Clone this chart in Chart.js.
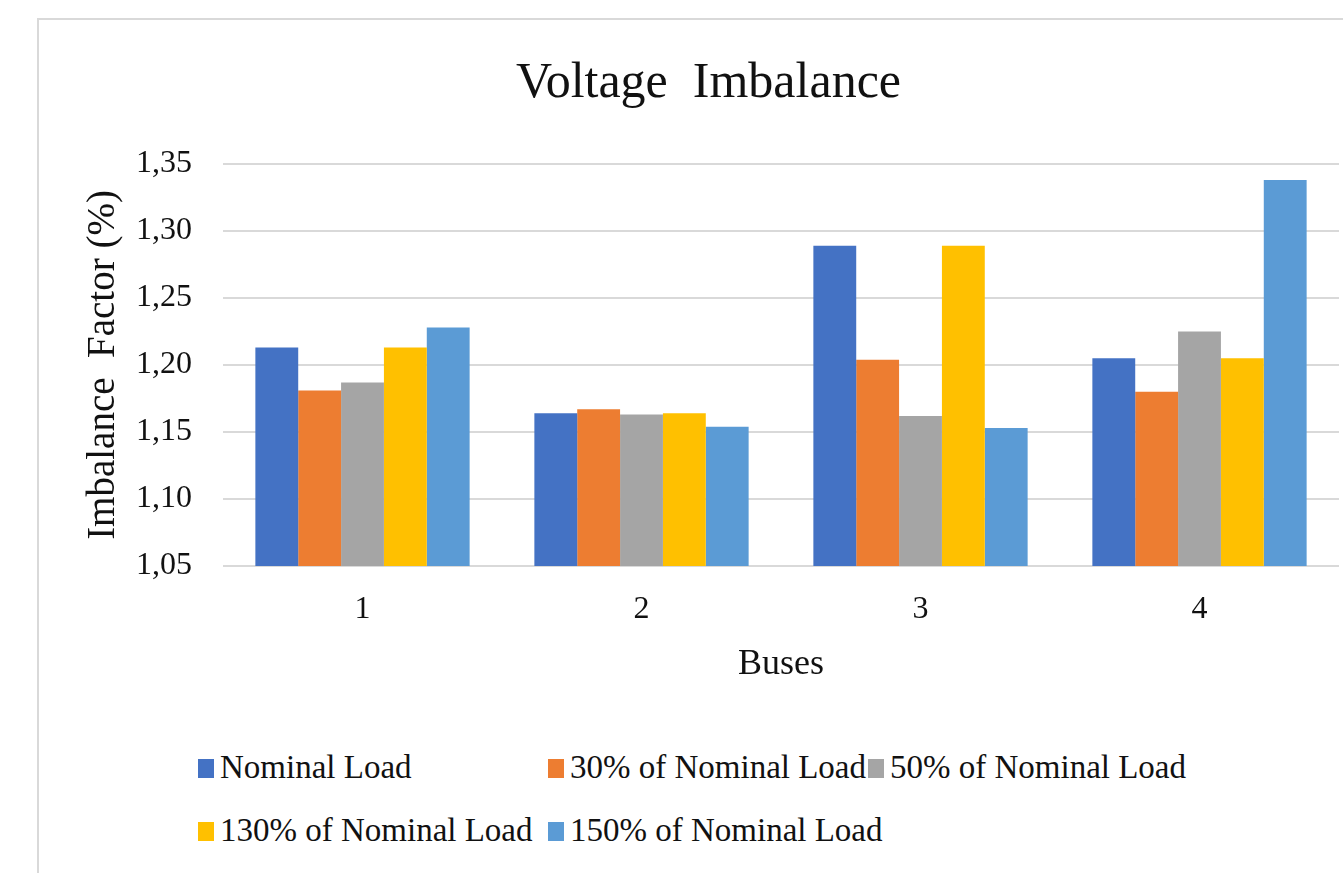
<!DOCTYPE html>
<html>
<head>
<meta charset="utf-8">
<title>Voltage Imbalance</title>
<script src="https://cdn.jsdelivr.net/npm/chart.js@4"></script>
<style>
  html, body { margin: 0; padding: 0; overflow: hidden; background: #fff; }
  body { width: 1343px; height: 873px; position: relative; }
  /* chart frame, cut off at the right and bottom like the source */
  .frame {
    position: absolute; left: 37px; top: 18px; width: 1400px; height: 900px;
    border-top: 2px solid #d9d9d9; border-left: 2px solid #d9d9d9;
  }
  #chart { position: absolute; left: 37px; top: 19px; }
  .legend-item {
    position: absolute; display: flex; align-items: flex-start;
    font-family: 'Liberation Serif', 'Times New Roman', serif;
    font-size: 33px; line-height: 33px; color: #111; white-space: nowrap;
  }
  .legend-swatch { width: 16px; height: 19px; margin: 8px 6px 0 0; flex: none; }
</style>
</head>
<body>
<div class="frame"></div>
<canvas id="chart" width="1343" height="670"></canvas>
<div id="legend"></div>

<script>
/* ---- data ---- */
const buses = ['1', '2', '3', '4'];

const seriesLabels = [
  'Nominal Load',
  '30% of Nominal Load',
  '50% of Nominal Load',
  '130% of Nominal Load',
  '150% of Nominal Load',
];

const nominalLoad = [1.213, 1.164, 1.289, 1.205];
const load30      = [1.181, 1.167, 1.204, 1.180];
const load50      = [1.187, 1.163, 1.162, 1.225];
const load130     = [1.213, 1.164, 1.289, 1.205];
const load150     = [1.228, 1.154, 1.153, 1.338];

const yMin = 1.05;
const yMax = 1.35;
const yStep = 0.05;

/* ---- style ---- */
const seriesColors = ['#4472C4', '#ED7D31', '#A5A5A5', '#FFC000', '#5B9BD5'];
const seriesValues = [nominalLoad, load30, load50, load130, load150];
const textColor = '#111';
const gridColor = '#d9d9d9';

Chart.defaults.font.family = "'Liberation Serif', 'Times New Roman', serif";
Chart.defaults.color = textColor;

// note: Chart.js reserves tick padding twice when sizing an axis,
// so some title paddings below are negative to pull the plot back into place
const chart = new Chart(document.getElementById('chart'), {
  type: 'bar',
  data: {
    labels: buses,
    datasets: seriesValues.map((values, i) => ({
      label: seriesLabels[i],
      data: values,
      backgroundColor: seriesColors[i],
      borderWidth: 0,
      categoryPercentage: 0.768,
      barPercentage: 1.0,
    })),
  },
  options: {
    responsive: false,
    animation: false,
    layout: { padding: { top: 0, left: 41, right: 41, bottom: 0 } },
    plugins: {
      legend: { display: false },
      tooltip: { enabled: false },
      title: {
        display: true,
        text: 'Voltage  Imbalance',
        font: { size: 50, weight: 'normal' },
        color: textColor,
        padding: { top: 35, bottom: 50 },
      },
    },
    scales: {
      x: {
        grid: { display: false, drawTicks: false },
        border: { display: false },
        ticks: { font: { size: 32 }, color: textColor, padding: 24.8 },
        title: {
          display: true,
          text: 'Buses',
          font: { size: 36 },
          color: textColor,
          padding: { top: -11.2, bottom: 3 },
        },
      },
      y: {
        min: yMin,
        max: yMax,
        grid: { color: gridColor, lineWidth: 2, drawTicks: false },
        border: { display: false },
        ticks: {
          stepSize: yStep,
          font: { size: 32 },
          color: textColor,
          padding: 31,
          callback: v => v.toFixed(2).replace('.', ','),
        },
        title: {
          display: true,
          text: 'Imbalance  Factor (%)',
          font: { size: 39 },
          color: textColor,
          padding: { top: 2.6, bottom: -22.4 },
        },
      },
    },
  },
});

// Excel-style legend: three columns, wraps onto a second row
const legendCols = [198, 548, 868];
const legendRows = [751, 814];
const legend = document.getElementById('legend');
chart.data.datasets.forEach((ds, i) => {
  const item = document.createElement('div');
  item.className = 'legend-item';
  item.style.left = legendCols[i % 3] + 'px';
  item.style.top = legendRows[Math.floor(i / 3)] + 'px';
  item.innerHTML = `<span class="legend-swatch" style="background:${ds.backgroundColor}"></span>${ds.label}`;
  legend.appendChild(item);
});
</script>
</body>
</html>
